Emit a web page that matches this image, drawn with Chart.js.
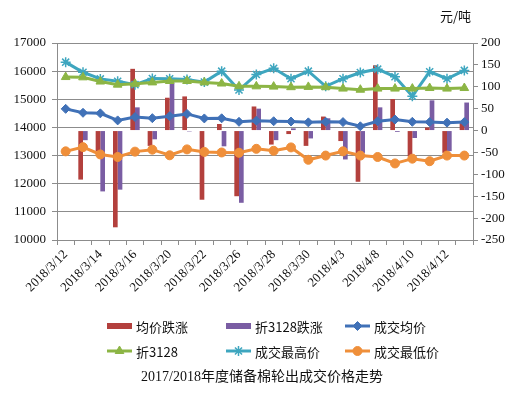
<!DOCTYPE html>
<html><head><meta charset="utf-8">
<script src="https://cdn.jsdelivr.net/npm/chart.js@4/dist/chart.umd.min.js"></script>
<style>html,body{margin:0;padding:0;background:#fff}</style>
</head><body>
<canvas id="c" width="527" height="393" style="width:527px;height:393px;display:block"></canvas>
<script>
const categories = ['2018/3/12','2018/3/13','2018/3/14','2018/3/15','2018/3/16','2018/3/19','2018/3/20','2018/3/21','2018/3/22','2018/3/23','2018/3/26','2018/3/27','2018/3/28','2018/3/29','2018/3/30','2018/4/2','2018/4/3','2018/4/4','2018/4/8','2018/4/9','2018/4/10','2018/4/11','2018/4/12','2018/4/13'];
const avgChange   = [null,-112,-47,-221,141,-35,75,78,-158,15,-150,55,-32,-8,-35,32,-24,-117,149,72,-59,7,-51,20];
const adjChange   = [null,-22,-139,-135,53,-20,112,-2,0,-36,-165,50,-22,5,-18,28,-66,-51,53,-3,-17,69,-47,64];
const avgPrice    = [14660,14520,14500,14250,14370,14330,14400,14480,14320,14325,14200,14240,14220,14210,14180,14200,14190,14040,14220,14280,14200,14190,14170,14190];
const adj3128     = [15790,15780,15630,15520,15550,15600,15650,15650,15600,15560,15460,15460,15450,15430,15440,15430,15380,15340,15380,15380,15380,15400,15380,15400];
const highPrice   = [16320,15960,15725,15640,15520,15740,15730,15700,15610,16000,15330,15880,16100,15730,16000,15460,15730,15950,16070,15800,15110,15980,15730,16025];
const lowPrice    = [13150,13300,13040,12950,13140,13210,13010,13220,13130,13110,13100,13240,13170,13290,12850,13000,13150,13000,12950,12720,12890,12800,13000,13000];
const seriesNames = ['均价跌涨','折3128跌涨','成交均价','折3128','成交最高价','成交最低价'];
const leftTicks = {min:10000, max:17000, step:1000};
const rightTicks = {min:-250, max:200, step:50};
const unitLabel = '元/吨';
const chartTitle = '2017/2018年度储备棉轮出成交价格走势';

const C = {red:'#B3403D', purple:'#7A5DA3', blue:'#4071B7', green:'#8CB545', teal:'#3EA6BF', orange:'#EF8F3A', grid:'#8C8C8C'};
Chart.defaults.font.family = '"Liberation Serif", "Times New Roman", serif';
Chart.defaults.font.size = 13;
Chart.defaults.color = '#111';

const lineDs = (label, data, color, style, r, extra) => Object.assign({
  type:'line', label, data, yAxisID:'y', borderColor:color, backgroundColor:color,
  borderWidth:3, pointStyle:style, pointRadius:r, pointBorderColor:color, pointBackgroundColor:color,
  pointBorderWidth:1, tension:0, order:1
}, extra||{});

const legendPlugin = {
  id:'customLegend',
  afterDraw(chart){
    const ctx = chart.ctx;
    const ds = chart.data.datasets;
    const cols = [107,226,345], rows = [326,351];
    ctx.save();
    ds.forEach((d,i)=>{
      const x = cols[i%3], y = rows[Math.floor(i/3)];
      if (d.type === 'bar') {
        ctx.fillStyle = d.backgroundColor;
        ctx.fillRect(x, y-3, 25, 6);
      } else {
        ctx.strokeStyle = d.borderColor; ctx.lineWidth = 3;
        ctx.beginPath(); ctx.moveTo(x, y); ctx.lineTo(x+25, y); ctx.stroke();
        ctx.fillStyle = d.borderColor; ctx.strokeStyle = d.borderColor;
        const bw = d.pointStyle==='star'?1.5:1;
        ctx.lineWidth = bw;
        Chart.helpers.drawPoint(ctx, {pointStyle:d.pointStyle, rotation:0, borderWidth:bw, radius:d.pointRadius}, x+12.5, y);
      }
      ctx.fillStyle = '#111';
      ctx.font = '13px "Noto Sans CJK SC", "Liberation Serif", serif';
      ctx.textBaseline = 'middle'; ctx.textAlign = 'left';
      ctx.fillText(d.label, x+29, y+1);
    });
    ctx.font = '14px "Liberation Serif", "Noto Sans CJK SC", serif';
    ctx.textAlign = 'center';
    ctx.fillText(chartTitle, 262, 377);
    ctx.font = '13px "Noto Sans CJK SC", serif';
    ctx.textAlign = 'left';
    ctx.fillText(unitLabel, 440, 16);
    ctx.restore();
  }
};

new Chart(document.getElementById('c'), {
  data:{
    labels:categories,
    datasets:[
      {type:'bar', label:seriesNames[0], data:avgChange, yAxisID:'y1', backgroundColor:C.red, categoryPercentage:0.54, barPercentage:1, order:10},
      {type:'bar', label:seriesNames[1], data:adjChange, yAxisID:'y1', backgroundColor:C.purple, categoryPercentage:0.54, barPercentage:1, order:10},
      lineDs(seriesNames[2], avgPrice, C.blue, 'rectRot', 4.5),
      lineDs(seriesNames[3], adj3128, C.green, 'triangle', 5),
      lineDs(seriesNames[4], highPrice, C.teal, 'star', 5, {pointBorderWidth:1.5}),
      lineDs(seriesNames[5], lowPrice, C.orange, 'circle', 4.5),
    ]
  },
  options:{
    responsive:false, animation:false, devicePixelRatio:1,
    layout:{padding:{top:43,left:0,right:0,bottom:0}},
    plugins:{legend:{display:false}, title:{display:false}, tooltip:{enabled:false}},
    scales:{
      x:{
        offset:true,
        grid:{offset:true, drawOnChartArea:false, drawTicks:true, tickLength:5, color:C.grid},
        border:{color:C.grid},
        ticks:{autoSkip:false, maxRotation:45, minRotation:45, padding:2,
          callback:function(v,i){ return i%2===0 ? this.getLabelForValue(v) : ''; }},
        afterFit(s){ s.height = 153; }
      },
      y:{
        position:'left', min:leftTicks.min, max:leftTicks.max,
        ticks:{stepSize:leftTicks.step, padding:6, callback:v=>String(v)},
        grid:{color:C.grid, tickLength:5},
        border:{color:C.grid},
        afterFit(s){ s.width = 57; }
      },
      y1:{
        position:'right', min:rightTicks.min, max:rightTicks.max,
        ticks:{stepSize:rightTicks.step, padding:3, callback:v=>String(v)},
        grid:{drawOnChartArea:false, color:C.grid, tickLength:5},
        border:{color:C.grid},
        afterFit(s){ s.width = 54; }
      }
    }
  },
  plugins:[legendPlugin]
});
</script>
</body></html>
